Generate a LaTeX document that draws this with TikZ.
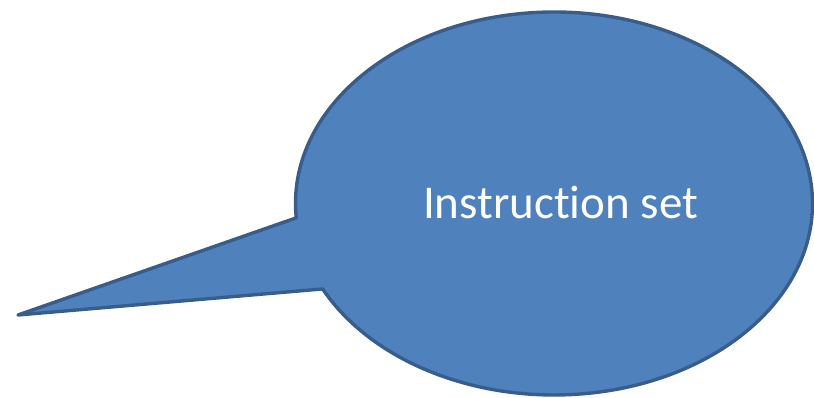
\documentclass[tikz,border=0pt]{standalone}
\usepackage{fontspec}
\setmainfont{Carlito}[Ligatures={NoCommon}]
\usepackage{xcolor}
\usepackage{tikz}
\usetikzlibrary{calc}
\definecolor{bubblefill}{HTML}{4F81BD}
\definecolor{bubbleline}{HTML}{385D8A}
\tikzset{
    bubble/.style={draw=bubbleline, fill=bubblefill, line width=3.4pt, line join=round},
    bubbletext/.style={text=white, font=\fontsize{47}{52}\selectfont, inner sep=0pt}
}

\begin{document}
\begin{tikzpicture}[x=1pt, y=1pt]
    \useasboundingbox (0,0) rectangle (814,398);
    \coordinate (centre) at (554,194.5);
    \coordinate (tip) at (18,83);
    \coordinate (upper) at ($(centre)+(184.3:258.5 and 191.5)$);
    \draw [bubble] (tip) -- (upper)
        arc[start angle=184.3, end angle=-153.5, x radius=258.5, y radius=191.5] -- cycle;
    \node (label) [bubbletext] at (560.5,195) {Instruction set};
\end{tikzpicture}
\end{document}
